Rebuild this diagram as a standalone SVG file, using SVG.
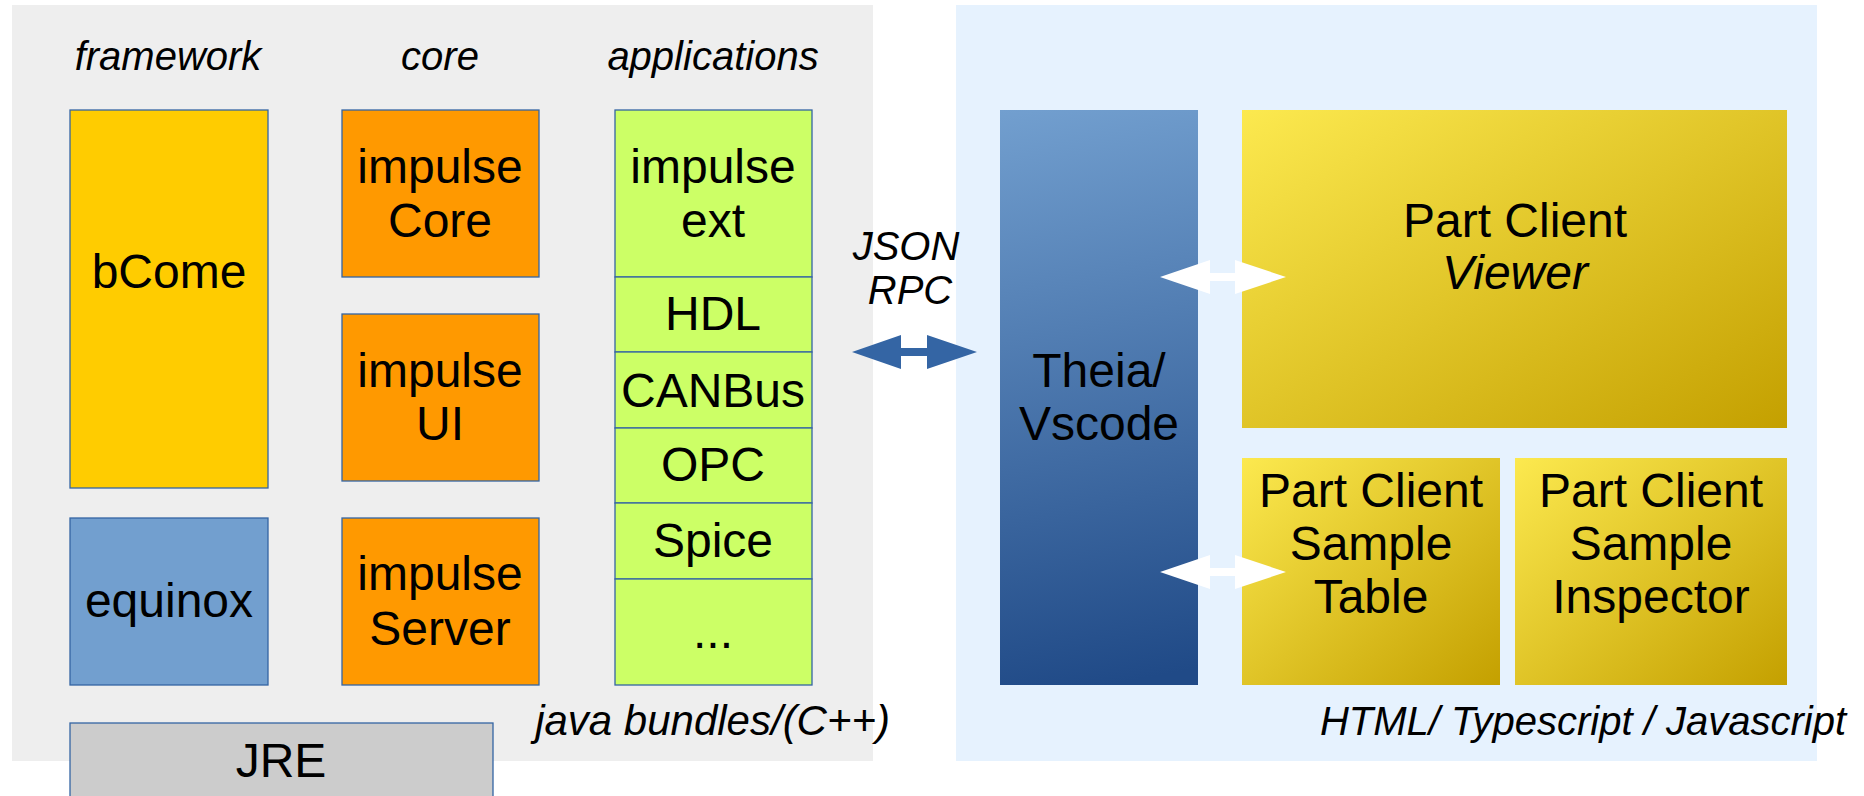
<svg xmlns="http://www.w3.org/2000/svg" width="1864" height="796" viewBox="0 0 1864 796">
<defs>
<linearGradient id="gBlue" gradientUnits="userSpaceOnUse" x1="1000" y1="110" x2="1110" y2="685"><stop offset="0" stop-color="#729fcf"/><stop offset="1" stop-color="#204a87"/></linearGradient>
<linearGradient id="gYel" x1="0" y1="0" x2="1" y2="1"><stop offset="0" stop-color="#fce94f"/><stop offset="1" stop-color="#c4a000"/></linearGradient>
<style>
text{font-family:"Liberation Sans",Arial,sans-serif;fill:#000;text-anchor:middle}
.t{font-size:48px}
.h{font-size:40px;font-style:italic}
.b{stroke:#3465a4;stroke-width:1.3}
</style>
</defs>
<rect x="0" y="0" width="1864" height="796" fill="#fff"/>
<g id="panel-java">
<rect x="12" y="5" width="861" height="756" fill="#eeeeee"/>
<text class="h" x="168" y="70">framework</text>
<text class="h" x="440" y="70">core</text>
<text class="h" x="713" y="70">applications</text>
<text class="h" x="890" y="735" style="text-anchor:end;font-size:42px">java bundles/(C++)</text>
</g>
<g id="panel-web">
<rect x="956" y="5" width="861" height="756" fill="#e6f2fe"/>
<text class="h" x="1846" y="735" style="text-anchor:end">HTML/ Typescript / Javascript</text>
</g>
<g id="bCome"><rect class="b" x="70" y="110" width="198" height="378" fill="#ffcc00"/><text class="t" x="169" y="288">bCome</text></g>
<g id="equinox"><rect class="b" x="70" y="518" width="198" height="167" fill="#729fcf"/><text class="t" x="169" y="617">equinox</text></g>
<g id="impulse-core"><rect class="b" x="342" y="110" width="197" height="167" fill="#ff9900"/><text class="t" x="440" y="183">impulse</text><text class="t" x="440" y="237">Core</text></g>
<g id="impulse-ui"><rect class="b" x="342" y="314" width="197" height="167" fill="#ff9900"/><text class="t" x="440" y="387">impulse</text><text class="t" x="440" y="440">UI</text></g>
<g id="impulse-server"><rect class="b" x="342" y="518" width="197" height="167" fill="#ff9900"/><text class="t" x="440" y="590">impulse</text><text class="t" x="440" y="645">Server</text></g>
<g id="impulse-ext"><rect class="b" x="615" y="110" width="197" height="167" fill="#ccff66"/><text class="t" x="713" y="183">impulse</text><text class="t" x="713" y="237">ext</text></g>
<g id="hdl"><rect class="b" x="615" y="277" width="197" height="75" fill="#ccff66"/><text class="t" x="713" y="330">HDL</text></g>
<g id="canbus"><rect class="b" x="615" y="352" width="197" height="76" fill="#ccff66"/><text class="t" x="713" y="407">CANBus</text></g>
<g id="opc"><rect class="b" x="615" y="428" width="197" height="75" fill="#ccff66"/><text class="t" x="713" y="481">OPC</text></g>
<g id="spice"><rect class="b" x="615" y="503" width="197" height="76" fill="#ccff66"/><text class="t" x="713" y="557">Spice</text></g>
<g id="more"><rect class="b" x="615" y="579" width="197" height="106" fill="#ccff66"/><text class="t" x="713" y="648">...</text></g>
<g id="jre"><rect class="b" x="70" y="723" width="423" height="80" fill="#cccccc"/><text class="t" x="281" y="777">JRE</text></g>
<g id="theia"><rect x="1000" y="110" width="198" height="575" fill="url(#gBlue)"/><text class="t" x="1099" y="387">Theia/</text><text class="t" x="1099" y="440">Vscode</text></g>
<g id="viewer"><rect x="1242" y="110" width="545" height="318" fill="url(#gYel)"/><text class="t" x="1515" y="237">Part Client</text><text class="t" x="1515" y="289" font-style="italic">Viewer</text></g>
<g id="table"><rect x="1242" y="458" width="258" height="227" fill="url(#gYel)"/><text class="t" x="1371" y="507">Part Client</text><text class="t" x="1371" y="560">Sample</text><text class="t" x="1371" y="613">Table</text></g>
<g id="inspector"><rect x="1515" y="458" width="272" height="227" fill="url(#gYel)"/><text class="t" x="1651" y="507">Part Client</text><text class="t" x="1651" y="560">Sample</text><text class="t" x="1651" y="613">Inspector</text></g>
<g id="connectors">
<polygon fill="#3465a4" points="852,352 901,335 901,348 927,348 927,335 977,352 927,369 927,356 901,356 901,369"/>
<text class="h" x="906" y="260">JSON</text>
<text class="h" x="910" y="304">RPC</text>
<polygon fill="#ffffff" points="1160,277 1210,260 1210,273 1235,273 1235,260 1286,277 1235,294 1235,281 1210,281 1210,294"/>
<polygon fill="#ffffff" points="1160,572 1210,555 1210,568 1235,568 1235,555 1286,572 1235,589 1235,576 1210,576 1210,589"/>
</g>
</svg>
